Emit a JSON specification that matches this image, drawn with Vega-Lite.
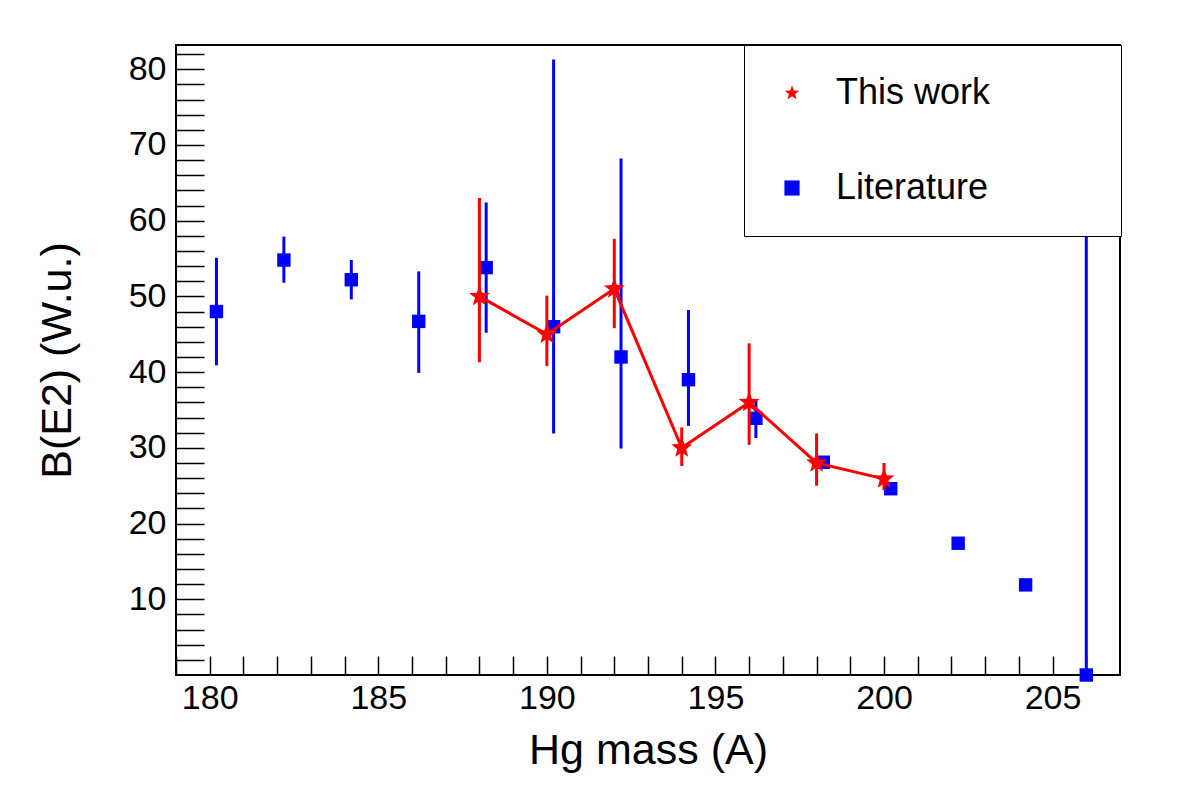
{
  "$schema": "https://vega.github.io/schema/vega-lite/v6.json",
  "width": 944,
  "height": 630,
  "autosize": {"type": "none"},
  "padding": {"left": 176, "top": 45, "right": 62, "bottom": 113},
  "background": "white",
  "datasets": {
    "pts": [
      {"series": "This work", "mass": 188, "value": 50.0, "lo": 41.3, "hi": 63.0},
      {"series": "This work", "mass": 190, "value": 45.0, "lo": 40.8, "hi": 50.1},
      {"series": "This work", "mass": 192, "value": 51.0, "lo": 45.8, "hi": 57.6},
      {"series": "This work", "mass": 194, "value": 30.0, "lo": 27.6, "hi": 32.7},
      {"series": "This work", "mass": 196, "value": 36.0, "lo": 30.4, "hi": 43.8},
      {"series": "This work", "mass": 198, "value": 28.0, "lo": 25.0, "hi": 31.9},
      {"series": "This work", "mass": 200, "value": 25.9, "lo": 24.4, "hi": 28.0},
      {"series": "Literature", "mass": 180.2, "value": 48.0, "lo": 40.9, "hi": 55.1},
      {"series": "Literature", "mass": 182.2, "value": 54.8, "lo": 51.8, "hi": 57.9},
      {"series": "Literature", "mass": 184.2, "value": 52.2, "lo": 49.6, "hi": 54.8},
      {"series": "Literature", "mass": 186.2, "value": 46.7, "lo": 39.9, "hi": 53.3},
      {"series": "Literature", "mass": 188.2, "value": 53.8, "lo": 45.2, "hi": 62.4},
      {"series": "Literature", "mass": 190.2, "value": 46.0, "lo": 31.9, "hi": 81.3},
      {"series": "Literature", "mass": 192.2, "value": 42.0, "lo": 29.9, "hi": 68.2},
      {"series": "Literature", "mass": 194.2, "value": 39.0, "lo": 32.9, "hi": 48.2},
      {"series": "Literature", "mass": 196.2, "value": 33.9, "lo": 31.3, "hi": 36.3},
      {"series": "Literature", "mass": 198.2, "value": 28.1, "lo": 28.1, "hi": 28.1},
      {"series": "Literature", "mass": 200.2, "value": 24.6, "lo": 24.6, "hi": 24.6},
      {"series": "Literature", "mass": 202.2, "value": 17.4, "lo": 17.4, "hi": 17.4},
      {"series": "Literature", "mass": 204.2, "value": 11.9, "lo": 11.9, "hi": 11.9},
      {"series": "Literature", "mass": 206.0, "value": 0.0, "lo": 0.0, "hi": 100.0}
    ]
  },
  "data": {"name": "pts"},
  "layer": [
    {
      "transform": [{"filter": "datum.series === 'Literature'"}],
      "mark": {"type": "rule", "color": "#0000ff", "strokeWidth": 3, "clip": true},
      "encoding": {
        "x": {
          "field": "mass", "type": "quantitative",
          "scale": {"domain": [179, 207], "nice": false, "zero": false},
          "axis": {
            "orient": "bottom",
            "title": "Hg mass (A)",
            "values": [179, 180, 181, 182, 183, 184, 185, 186, 187, 188, 189, 190, 191, 192, 193, 194, 195, 196, 197, 198, 199, 200, 201, 202, 203, 204, 205, 206],
            "tickCount": 200,
            "format": "d",
            "labelExpr": "datum.value % 5 === 0 ? datum.label : ''",
            "tickSize": -19,
            "labelPadding": 25,
            "titleY": 88,
            "titleBaseline": "alphabetic",
            "titleFontSize": 43,
            "encode": {
              "ticks": {"update": {"y2": {"signal": "datum.value % 5 === 0 ? -19 : -9"}}}
            }
          }
        },
        "y": {
          "field": "lo", "type": "quantitative",
          "scale": {"domain": [0, 83.2], "nice": false, "zero": false},
          "axis": {
            "orient": "left",
            "title": "B(E2) (W.u.)",
            "values": [2, 4, 6, 8, 10, 12, 14, 16, 18, 20, 22, 24, 26, 28, 30, 32, 34, 36, 38, 40, 42, 44, 46, 48, 50, 52, 54, 56, 58, 60, 62, 64, 66, 68, 70, 72, 74, 76, 78, 80, 82],
            "tickCount": 200,
            "format": "d",
            "labelExpr": "datum.value % 10 === 0 ? datum.label : ''",
            "tickSize": -28,
            "labelPadding": 38,
            "titleX": -106,
            "titleY": 315,
            "titleAngle": -90,
            "titleAlign": "center",
            "titleBaseline": "alphabetic",
            "titleFontSize": 43,
            "encode": {
              "ticks": {"update": {"x2": {"signal": "datum.value % 10 === 0 ? 28 : 14"}}}
            }
          }
        },
        "y2": {"field": "hi"}
      }
    },
    {
      "transform": [{"filter": "datum.series === 'Literature'"}],
      "mark": {"type": "point", "filled": true, "opacity": 1, "size": 180, "strokeWidth": 0},
      "encoding": {
        "x": {"field": "mass", "type": "quantitative"},
        "y": {"field": "value", "type": "quantitative"},
        "color": {
          "field": "series", "type": "nominal",
          "scale": {"domain": ["This work", "Literature"], "range": ["#ff0000", "#0000ff"]},
          "legend": {"title": null, "labelExpr": "datum.label + '\u00a0\u00a0\u00a0\u00a0\u00a0\u00a0\u00a0\u00a0\u00a0\u00a0\u200b'"}
        },
        "shape": {
          "field": "series", "type": "nominal",
          "scale": {"domain": ["This work", "Literature"], "range": ["M0,-1L0.2469,-0.3398L0.951,-0.309L0.3994,0.1298L0.588,0.809L0,0.42L-0.588,0.809L-0.3994,0.1298L-0.951,-0.309L-0.2469,-0.3398Z", "square"]},
          "legend": {"title": null, "labelExpr": "datum.label + '\u00a0\u00a0\u00a0\u00a0\u00a0\u00a0\u00a0\u00a0\u00a0\u00a0\u200b'"}
        }
      }
    },
    {
      "transform": [{"filter": "datum.series === 'This work'"}],
      "mark": {"type": "rule", "color": "#ff0000", "strokeWidth": 3, "clip": true},
      "encoding": {
        "x": {"field": "mass", "type": "quantitative"},
        "y": {"field": "lo", "type": "quantitative"},
        "y2": {"field": "hi"}
      }
    },
    {
      "transform": [{"filter": "datum.series === 'This work'"}],
      "mark": {"type": "line", "color": "#ff0000", "strokeWidth": 3},
      "encoding": {
        "x": {"field": "mass", "type": "quantitative"},
        "y": {"field": "value", "type": "quantitative"}
      }
    },
    {
      "transform": [{"filter": "datum.series === 'This work'"}],
      "mark": {"type": "point", "filled": true, "opacity": 1, "size": 480, "strokeWidth": 0},
      "encoding": {
        "x": {"field": "mass", "type": "quantitative"},
        "y": {"field": "value", "type": "quantitative"},
        "color": {
          "field": "series", "type": "nominal",
          "scale": {"domain": ["This work", "Literature"], "range": ["#ff0000", "#0000ff"]},
          "legend": {"title": null, "labelExpr": "datum.label + '\u00a0\u00a0\u00a0\u00a0\u00a0\u00a0\u00a0\u00a0\u00a0\u00a0\u200b'"}
        },
        "shape": {
          "field": "series", "type": "nominal",
          "scale": {"domain": ["This work", "Literature"], "range": ["M0,-1L0.2469,-0.3398L0.951,-0.309L0.3994,0.1298L0.588,0.809L0,0.42L-0.588,0.809L-0.3994,0.1298L-0.951,-0.309L-0.2469,-0.3398Z", "square"]},
          "legend": {"title": null, "labelExpr": "datum.label + '\u00a0\u00a0\u00a0\u00a0\u00a0\u00a0\u00a0\u00a0\u00a0\u00a0\u200b'"}
        }
      }
    }
  ],
  "config": {
    "font": "Liberation Sans",
    "view": {"stroke": "#000000", "strokeWidth": 2},
    "axis": {
      "grid": false,
      "domain": false,
      "tickColor": "#000000",
      "tickWidth": 1.5,
      "labelFontSize": 34,
      "labelOverlap": false,
      "labelFlush": false,
      "labelColor": "#000000",
      "labelFont": "Liberation Sans",
      "titleFont": "Liberation Sans",
      "titleFontWeight": "normal",
      "titleColor": "#000000"
    },
    "legend": {
      "orient": "none",
      "legendX": 568,
      "legendY": 0,
      "padding": 30,
      "rowPadding": 59,
      "symbolSize": 230,
      "symbolOffset": 0,
      "symbolStrokeWidth": 0,
      "labelOffset": 26,
      "labelLimit": 600,
      "labelFontSize": 36,
      "labelFont": "Liberation Sans",
      "labelColor": "#000000",
      "strokeColor": "#000000",
      "fillColor": "#ffffff"
    }
  }
}
